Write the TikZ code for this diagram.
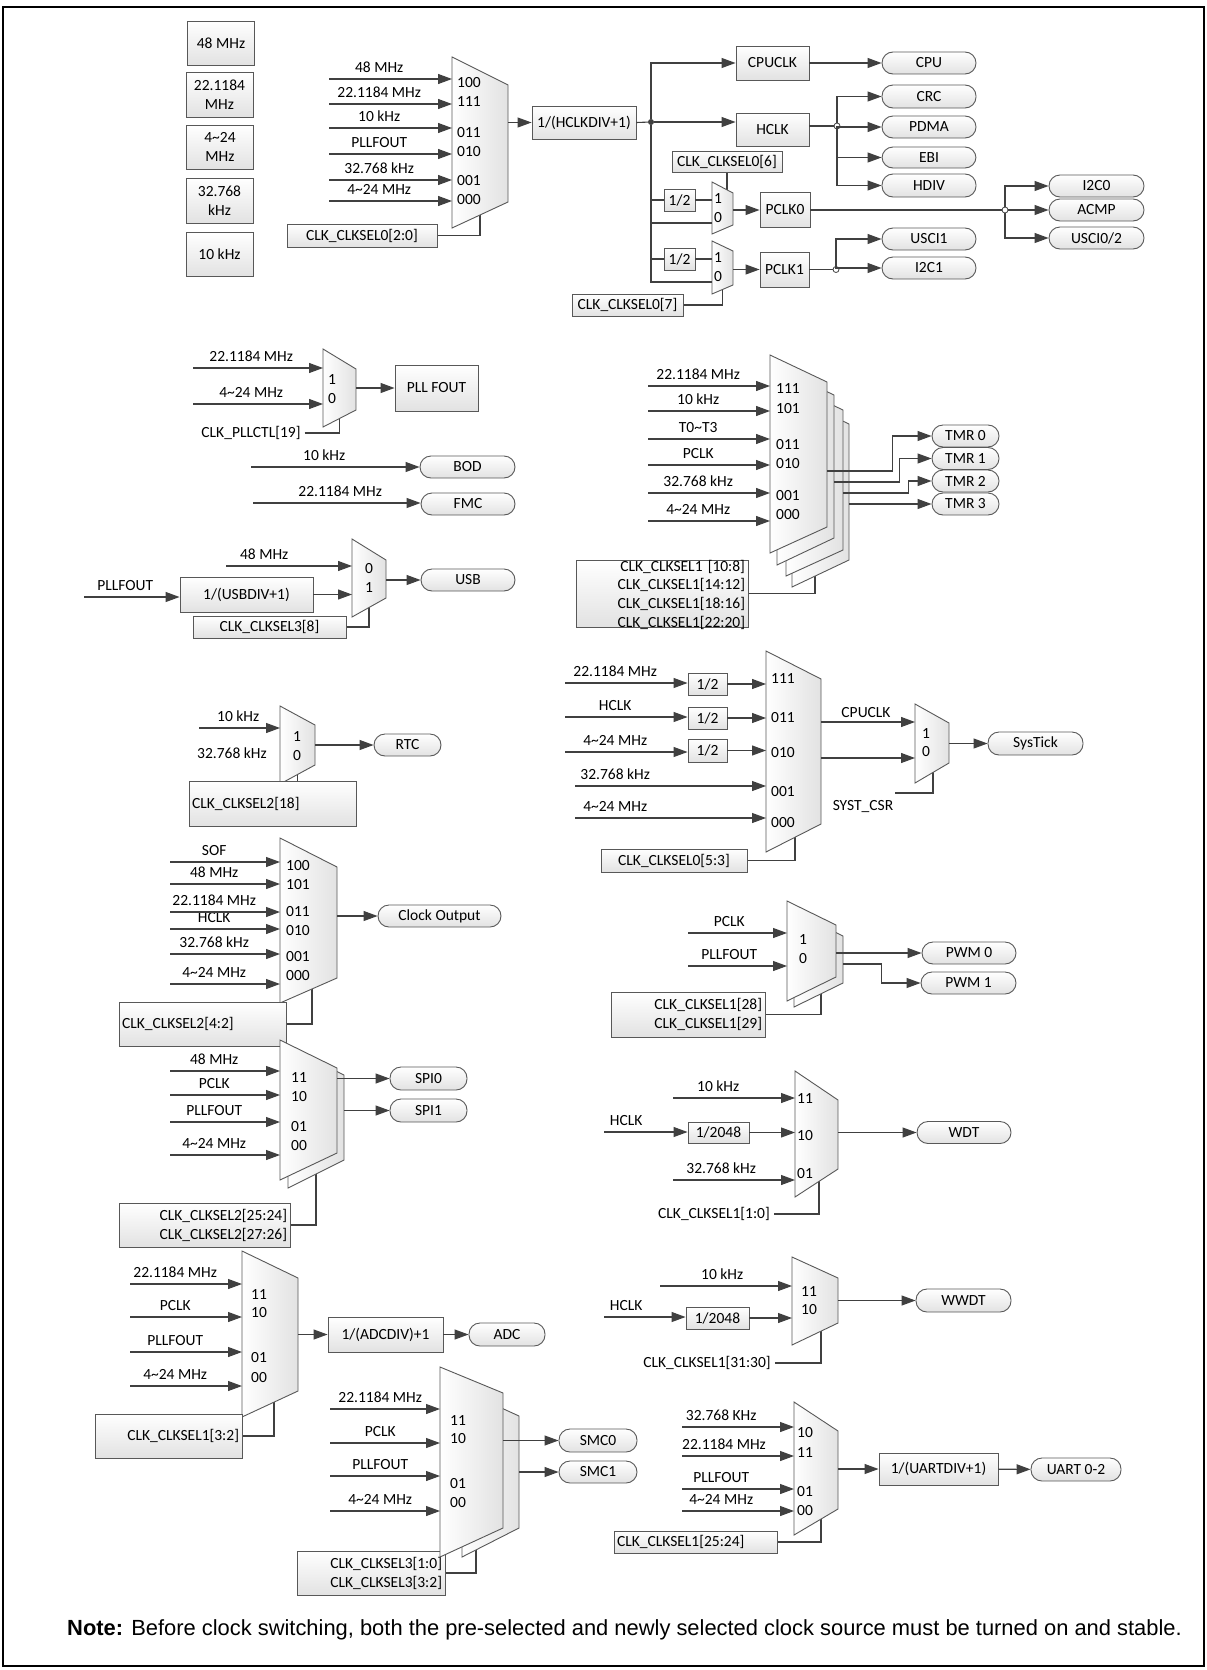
\documentclass[tikz,border=0pt]{standalone}
\usepackage{fontspec}
\setmainfont{Carlito}
\newfontfamily\notefont{Liberation Sans}
\usetikzlibrary{arrows.meta, backgrounds, calc}
\definecolor{wirec}{RGB}{64,64,64}
\definecolor{edgec}{RGB}{88,88,88}
\definecolor{shadec}{RGB}{226,226,226}

\begin{document}
\begin{tikzpicture}[
    x=1pt, y=-1pt,
    font=\fontsize{15.5}{19}\selectfont,
    wire/.style={draw=wirec, line width=1.1pt},
    arr/.style={wire, -{Triangle[length=14pt, width=10pt]}},
    blk/.style={draw=edgec, line width=0.9pt, top color=white, bottom color=shadec,
                inner sep=2pt, align=center},
    term/.style={blk, rounded corners=11pt, minimum height=22pt},
    selbox/.style={blk, inner xsep=3pt},
    muxnode/.style={inner sep=0pt, outer sep=0pt},
    muxbody/.style={draw=edgec, line width=0.9pt, left color=white, right color=shadec},
    src/.style={anchor=south west, inner xsep=0pt, inner ysep=3pt,
                text height=10pt, text depth=3pt},
    bit/.style={anchor=west, inner sep=0pt},
    txt/.style={inner xsep=4pt, inner ysep=0pt},
    jdot/.style={circle, fill=wirec, inner sep=0pt, minimum size=6pt},
    jring/.style={circle, draw=wirec, fill=white, line width=0.8pt, inner sep=0pt,
                  minimum size=6pt},
]
    \begin{scope}[on background layer]
        \fill[white] (0,0) rectangle (1207,1670);
    \end{scope}
    \path[use as bounding box] (0,0) rectangle (1207,1670);
    \draw[line width=1.6pt] (3,7) rectangle (1204,1666);

    % clock sources
    \node[blk, minimum width=67pt, minimum height=44pt] (s48) at (221,43) {48 MHz};
    \node[blk, minimum width=67pt, minimum height=45pt] (s22) at (219.5,94.5) {22.1184\\MHz};
    \node[blk, minimum width=67pt, minimum height=44pt] (s424) at (220,147) {4\textasciitilde24\\MHz};
    \node[blk, minimum width=67pt, minimum height=45pt] (s32) at (219.5,200.5) {32.768\\kHz};
    \node[blk, minimum width=67pt, minimum height=44pt] (s10) at (219.5,254) {10 kHz};

    % HCLK selection
    \node[muxnode, minimum width=56pt, minimum height=171pt] (hmux) at (480,142.5) {};
    \draw[muxbody] (hmux.north west) -- ([yshift=-28pt]hmux.north east)
        -- ([yshift=26pt]hmux.south east) -- (hmux.south west) -- cycle;
    \node[bit] (hb1) at (457,83) {100};
    \node[bit] (hb2) at (457,102) {111};
    \node[bit] (hb3) at (457,133) {011};
    \node[bit] (hb4) at (457,152) {010};
    \node[bit] (hb5) at (457,181) {001};
    \node[bit] (hb6) at (457,200) {000};
    \node[src, minimum width=100pt] (hi1) at (329,79) {48 MHz};
    \node[src, minimum width=100pt] (hi2) at (329,104) {22.1184 MHz};
    \node[src, minimum width=100pt] (hi3) at (329,128) {10 kHz};
    \node[src, minimum width=100pt] (hi4) at (329,154) {PLLFOUT};
    \node[src, minimum width=100pt] (hi5) at (329,180) {32.768 kHz};
    \node[src, minimum width=100pt] (hi6) at (329,201) {4\textasciitilde24 MHz};
    \draw[arr] (hi1.south west) -- (hi1.south west -| hmux.west);
    \draw[arr] (hi2.south west) -- (hi2.south west -| hmux.west);
    \draw[arr] (hi3.south west) -- (hi3.south west -| hmux.west);
    \draw[arr] (hi4.south west) -- (hi4.south west -| hmux.west);
    \draw[arr] (hi5.south west) -- (hi5.south west -| hmux.west);
    \draw[arr] (hi6.south west) -- (hi6.south west -| hmux.west);
    \node[selbox, minimum width=150pt, minimum height=23pt] (hsel) at (362,235.5) {CLK\_CLKSEL0[2:0]};

    \node[blk, minimum width=104pt, minimum height=33pt] (hdiv) at (584,122.5) {1/(HCLKDIV+1)};
    \draw[arr] (hdiv.west -| hmux.east) -- (hdiv.west);
    \node[jdot] (hdot) at (651,122) {};
    \draw[wire] (hdiv.east) -- (hdot);
    \node[blk, minimum width=73pt, minimum height=34pt] (cpuclk) at (772.5,63) {CPUCLK};
    \node[blk, minimum width=73pt, minimum height=33pt] (hclk) at (772.5,129.5) {HCLK};
    \draw[arr] (hdot) |- (cpuclk.west);
    \draw[arr] (hdot) -- (hdot -| hclk.west);

    % PCLK0 / PCLK1
    \node[blk, minimum width=31pt, minimum height=22pt, inner sep=0pt] (half0) at (679.5,200) {1/2};
    \node[muxnode, minimum width=21pt, minimum height=52pt] (pm0) at (722.5,208) {};
    \draw[muxbody] (pm0.north west) -- ([yshift=-11pt]pm0.north east)
        -- ([yshift=9pt]pm0.south east) -- (pm0.south west) -- cycle;
    \node[bit] (pm0b1) at (714,199) {1};
    \node[bit] (pm0b0) at (714,218) {0};
    \draw[wire] (hdot) |- (half0.west);
    \draw[wire] (half0.east) -- (half0.east -| pm0.west);
    \draw[wire] (hdot) |- ([yshift=-15pt]pm0.west);
    \node[selbox, minimum width=110pt, minimum height=21pt, inner ysep=1pt] (sel6) at (727,161.5) {CLK\_CLKSEL0[6]};
    \node[blk, minimum width=50pt, minimum height=35pt] (pclk0) at (785,210) {PCLK0};
    \draw[arr] (pclk0.west -| pm0.east) -- (pclk0.west);

    \node[blk, minimum width=31pt, minimum height=22pt, inner sep=0pt] (half1) at (679.5,259) {1/2};
    \node[muxnode, minimum width=21pt, minimum height=53pt] (pm1) at (722.5,267.5) {};
    \draw[muxbody] (pm1.north west) -- ([yshift=-10pt]pm1.north east)
        -- ([yshift=9pt]pm1.south east) -- (pm1.south west) -- cycle;
    \node[bit] (pm1b1) at (714,258) {1};
    \node[bit] (pm1b0) at (714,277) {0};
    \draw[wire] (hdot) |- (half1.west);
    \draw[wire] (half1.east) -- (half1.east -| pm1.west);
    \draw[wire] (hdot) |- ([yshift=-14.5pt]pm1.west);
    \node[selbox, minimum width=111pt, minimum height=22pt, inner ysep=1pt] (sel7) at (627.5,305) {CLK\_CLKSEL0[7]};
    \node[blk, minimum width=49pt, minimum height=35pt] (pclk1) at (784.5,269.5) {PCLK1};
    \draw[arr] (pclk1.west -| pm1.east) -- (pclk1.west);

    % AHB / APB peripherals
    \node[term, minimum width=94pt] (cpu) at (929,63) {CPU};
    \draw[arr] (cpuclk) -- (cpu);
    \node[term, minimum width=94pt, minimum height=23pt] (crc) at (929,96.5) {CRC};
    \node[term, minimum width=94pt] (pdma) at (929,127) {PDMA};
    \node[term, minimum width=94pt, minimum height=21pt] (ebi) at (929,157.5) {EBI};
    \node[term, minimum width=94pt, minimum height=23pt] (hdv) at (929,185.5) {HDIV};
    \node[jring] (hjn) at (837,126) {};
    \draw[wire] (hjn -| hclk.east) -- (hjn);
    \draw[arr] (hjn) |- (crc.west);
    \draw[arr] (hjn) |- (pdma.west);
    \draw[arr] (hjn) |- (ebi.west);
    \draw[arr] (hjn) |- (hdv.west);

    \node[term, minimum width=95pt] (i2c0) at (1096.5,186) {I2C0};
    \node[term, minimum width=95pt] (acmp) at (1096.5,210) {ACMP};
    \node[term, minimum width=95pt] (usci02) at (1096.5,238) {USCI0/2};
    \node[jring] (pjn) at (1005,210) {};
    \draw[wire] (pclk0) -- (pjn);
    \draw[arr] (pjn) |- (i2c0.west);
    \draw[arr] (pjn) -- (acmp.west);
    \draw[arr] (pjn) |- (usci02.west);

    \node[term, minimum width=94pt] (usci1) at (929,239) {USCI1};
    \node[term, minimum width=94pt] (i2c1) at (929,268) {I2C1};
    \node[jring] (qjn) at (836,269.5) {};
    \draw[wire] (pclk1) -- (qjn);
    \draw[arr] (qjn) |- (usci1.west);
    \draw[arr] (qjn) |- (i2c1.west);

    % PLL
    \node[muxnode, minimum width=33pt, minimum height=78pt] (pmux) at (339.5,388) {};
    \draw[muxbody] (pmux.north west) -- ([yshift=-20pt]pmux.north east)
        -- ([yshift=17pt]pmux.south east) -- (pmux.south west) -- cycle;
    \node[bit] (pb1) at (328,380) {1};
    \node[bit] (pb0) at (328,399) {0};
    \node[src, minimum width=116pt] (pi1) at (193,368) {22.1184 MHz};
    \node[src, minimum width=116pt] (pi0) at (193,404) {4\textasciitilde24 MHz};
    \draw[arr] (pi1.south west) -- (pi1.south west -| pmux.west);
    \draw[arr] (pi0.south west) -- (pi0.south west -| pmux.west);
    \node[txt] (pllsel) at (251,433) {CLK\_PLLCTL[19]};
    \node[blk, minimum width=83pt, minimum height=46pt] (pllfout) at (436.5,388) {PLL FOUT};
    \draw[arr] (pllfout.west -| pmux.east) -- (pllfout.west);

    % BOD, FMC
    \node[src, minimum width=146pt] (bodi) at (251,467) {10 kHz};
    \node[term, minimum width=95pt] (bod) at (467.5,467) {BOD};
    \draw[arr] (bodi.south west) -- (bodi.south west -| bod.west);
    \node[src, minimum width=174pt] (fmci) at (253,503) {22.1184 MHz};
    \node[term, minimum width=94pt] (fmc) at (468,504) {FMC};
    \draw[arr] (fmci.south west) -- (fmci.south west -| fmc.west);

    % USB
    \node[muxnode, minimum width=34pt, minimum height=78pt] (umux) at (369,578) {};
    \draw[muxbody] (umux.north west) -- ([yshift=-21pt]umux.north east)
        -- ([yshift=19pt]umux.south east) -- (umux.south west) -- cycle;
    \node[bit] (ub0) at (365,569) {0};
    \node[bit] (ub1) at (365,588) {1};
    \node[src, minimum width=76pt] (ui0) at (226,566) {48 MHz};
    \draw[arr] (ui0.south west) -- (ui0.south west -| umux.west);
    \node[src, minimum width=82pt] (upll) at (84,597) {PLLFOUT};
    \node[blk, minimum width=133pt, minimum height=35pt] (usbdiv) at (246.5,594.5) {1/(USBDIV+1)};
    \draw[arr] (upll.south west) -- (upll.south west -| usbdiv.west);
    \draw[arr] (usbdiv.east) -- (usbdiv.east -| umux.west);
    \node[term, minimum width=94pt] (usb) at (468,580) {USB};
    \draw[arr] (usb.west -| umux.east) -- (usb.west);
    \node[selbox, minimum width=153pt, minimum height=22pt] (usel) at (269.5,627) {CLK\_CLKSEL3[8]};

    % TMR
    \node[muxnode, minimum width=57pt, minimum height=190pt] (tm3) at (820.5,492) {};
    \draw[muxbody] (tm3.north west) -- ([yshift=-27pt]tm3.north east)
        -- ([yshift=27pt]tm3.south east) -- (tm3.south west) -- cycle;
    \node[muxnode, minimum width=57pt, minimum height=193pt] (tm2) at (814.5,479.5) {};
    \draw[muxbody] (tm2.north west) -- ([yshift=-27pt]tm2.north east)
        -- ([yshift=26pt]tm2.south east) -- (tm2.south west) -- cycle;
    \node[muxnode, minimum width=57pt, minimum height=197pt] (tm1) at (805.5,466.5) {};
    \draw[muxbody] (tm1.north west) -- ([yshift=-27pt]tm1.north east)
        -- ([yshift=27pt]tm1.south east) -- (tm1.south west) -- cycle;
    \node[muxnode, minimum width=57pt, minimum height=198pt] (tm0) at (798.5,454) {};
    \draw[muxbody] (tm0.north west) -- ([yshift=-27pt]tm0.north east)
        -- ([yshift=26pt]tm0.south east) -- (tm0.south west) -- cycle;
    \node[bit] (tb1) at (776,389) {111};
    \node[bit] (tb2) at (776,409) {101};
    \node[bit] (tb3) at (776,445) {011};
    \node[bit] (tb4) at (776,464) {010};
    \node[bit] (tb5) at (776,496) {001};
    \node[bit] (tb6) at (776,515) {000};
    \node[src, minimum width=100pt] (ti1) at (648,386) {22.1184 MHz};
    \node[src, minimum width=100pt] (ti2) at (648,411) {10 kHz};
    \node[src, minimum width=100pt] (ti3) at (648,439) {T0\textasciitilde{}T3};
    \node[src, minimum width=100pt] (ti4) at (648,465) {PCLK};
    \node[src, minimum width=100pt] (ti5) at (648,493) {32.768 kHz};
    \node[src, minimum width=100pt] (ti6) at (648,521) {4\textasciitilde24 MHz};
    \draw[arr] (ti1.south west) -- (ti1.south west -| tm0.west);
    \draw[arr] (ti2.south west) -- (ti2.south west -| tm0.west);
    \draw[arr] (ti3.south west) -- (ti3.south west -| tm0.west);
    \draw[arr] (ti4.south west) -- (ti4.south west -| tm0.west);
    \draw[arr] (ti5.south west) -- (ti5.south west -| tm0.west);
    \draw[arr] (ti6.south west) -- (ti6.south west -| tm0.west);
    \node[term, minimum width=67pt] (tmr0) at (965.5,436) {TMR 0};
    \node[term, minimum width=67pt] (tmr1) at (965.5,458.5) {TMR 1};
    \node[term, minimum width=67pt] (tmr2) at (965.5,481) {TMR 2};
    \node[term, minimum width=67pt] (tmr3) at (965.5,504) {TMR 3};
    \coordinate (to0) at (827,471);
    \coordinate (to1) at (834,482);
    \coordinate (to2) at (843,493);
    \coordinate (to3) at (849,504);
    \draw[arr] (to0) -| ([xshift=-39pt]tmr0.west) -- (tmr0.west);
    \draw[arr] (to1) -| ([xshift=-32pt]tmr1.west) -- (tmr1.west);
    \draw[arr] (to2) -| ([xshift=-23pt]tmr2.west) -- (tmr2.west);
    \draw[arr] (to3) -- (tmr3.west);
    \node[selbox, minimum width=172pt, minimum height=67pt, text width=166pt, align=right,
          text height=9pt, text depth=54pt, font=\fontsize{15.5}{18.7}\selectfont] (tsel)
        at (662,593.5) {CLK\_CLKSEL1 [10:8]\\CLK\_CLKSEL1[14:12]\\CLK\_CLKSEL1[18:16]\\CLK\_CLKSEL1[22:20]};

    % RTC
    \node[muxnode, minimum width=35pt, minimum height=78pt] (rmux) at (297.5,745) {};
    \draw[muxbody] (rmux.north west) -- ([yshift=-19pt]rmux.north east)
        -- ([yshift=19pt]rmux.south east) -- (rmux.south west) -- cycle;
    \node[bit] (rb1) at (293,737) {1};
    \node[bit] (rb0) at (293,756) {0};
    \node[src, minimum width=78pt] (ri1) at (199,728) {10 kHz};
    \draw[arr] (ri1.south west) -- (ri1.south west -| rmux.west);
    \node[txt] (ri0) at (232,753) {32.768 kHz};
    \node[selbox, minimum width=167pt, minimum height=45pt, text width=161pt, align=left] (rsel)
        at (272.5,803.5) {CLK\_CLKSEL2[18]};
    \node[term, minimum width=67pt] (rtc) at (407.5,745) {RTC};
    \draw[arr] (rtc.west -| rmux.east) -- (rtc.west);

    % clock output
    \node[muxnode, minimum width=57pt, minimum height=165pt] (cmux) at (308.5,920.5) {};
    \draw[muxbody] (cmux.north west) -- ([yshift=-29pt]cmux.north east)
        -- ([yshift=25pt]cmux.south east) -- (cmux.south west) -- cycle;
    \node[bit] (cb1) at (286,866) {100};
    \node[bit] (cb2) at (286,885) {101};
    \node[bit] (cb3) at (286,912) {011};
    \node[bit] (cb4) at (286,931) {010};
    \node[bit] (cb5) at (286,957) {001};
    \node[bit] (cb6) at (286,976) {000};
    \node[src, minimum width=88pt] (ci1) at (170,862) {SOF};
    \node[src, minimum width=88pt] (ci2) at (170,884) {48 MHz};
    \node[src, minimum width=88pt] (ci3) at (170,912) {22.1184 MHz};
    \node[src, minimum width=88pt] (ci4) at (170,929) {HCLK};
    \node[src, minimum width=88pt] (ci5) at (170,954) {32.768 kHz};
    \node[src, minimum width=88pt] (ci6) at (170,984) {4\textasciitilde24 MHz};
    \draw[arr] (ci1.south west) -- (ci1.south west -| cmux.west);
    \draw[arr] (ci2.south west) -- (ci2.south west -| cmux.west);
    \draw[arr] (ci3.south west) -- (ci3.south west -| cmux.west);
    \draw[arr] (ci4.south west) -- (ci4.south west -| cmux.west);
    \draw[arr] (ci5.south west) -- (ci5.south west -| cmux.west);
    \draw[arr] (ci6.south west) -- (ci6.south west -| cmux.west);
    \node[term, minimum width=123pt] (clkout) at (439.5,916) {Clock Output};
    \draw[arr] (clkout.west -| cmux.east) -- (clkout.west);
    \node[selbox, minimum width=167pt, minimum height=44pt, text width=161pt, align=left] (csel)
        at (202.5,1024) {CLK\_CLKSEL2[4:2]};

    % SPI
    \node[selbox, minimum width=171pt, minimum height=44pt, text width=165pt, align=right] (ssel)
        at (204.5,1225) {CLK\_CLKSEL2[25:24]\\CLK\_CLKSEL2[27:26]};
    \node[muxnode, minimum width=56pt, minimum height=141pt] (smuxb) at (316,1117.5) {};
    \draw[muxbody] (smuxb.north west) -- ([yshift=-28pt]smuxb.north east)
        -- ([yshift=28pt]smuxb.south east) -- (smuxb.south west) -- cycle;
    \node[muxnode, minimum width=57pt, minimum height=140pt] (smux) at (308.5,1110) {};
    \draw[muxbody] (smux.north west) -- ([yshift=-28pt]smux.north east)
        -- ([yshift=27pt]smux.south east) -- (smux.south west) -- cycle;
    \node[bit] (sb1) at (291,1077) {11};
    \node[bit] (sb2) at (291,1097) {10};
    \node[bit] (sb3) at (291,1127) {01};
    \node[bit] (sb4) at (291,1146) {00};
    \node[src, minimum width=88pt] (si1) at (170,1071) {48 MHz};
    \node[src, minimum width=88pt] (si2) at (170,1095) {PCLK};
    \node[src, minimum width=88pt] (si3) at (170,1122) {PLLFOUT};
    \node[src, minimum width=88pt] (si4) at (170,1155) {4\textasciitilde24 MHz};
    \draw[arr] (si1.south west) -- (si1.south west -| smux.west);
    \draw[arr] (si2.south west) -- (si2.south west -| smux.west);
    \draw[arr] (si3.south west) -- (si3.south west -| smux.west);
    \draw[arr] (si4.south west) -- (si4.south west -| smux.west);
    \node[term, minimum width=77pt, minimum height=23pt] (spi0) at (428.5,1078.5) {SPI0};
    \node[term, minimum width=77pt, minimum height=23pt] (spi1) at (428.5,1110.5) {SPI1};
    \draw[arr] (spi0.west -| smux.east) -- (spi0.west);
    \draw[arr] (spi1.west -| smuxb.east) -- (spi1.west);

    % ADC
    \node[muxnode, minimum width=56pt, minimum height=166pt] (amux) at (270,1334) {};
    \draw[muxbody] (amux.north west) -- ([yshift=-27pt]amux.north east)
        -- ([yshift=26pt]amux.south east) -- (amux.south west) -- cycle;
    \node[bit] (ab1) at (251,1294) {11};
    \node[bit] (ab2) at (251,1313) {10};
    \node[bit] (ab3) at (251,1358) {01};
    \node[bit] (ab4) at (251,1378) {00};
    \node[src, minimum width=90pt] (ai1) at (130,1284) {22.1184 MHz};
    \node[src, minimum width=90pt] (ai2) at (130,1317) {PCLK};
    \node[src, minimum width=90pt] (ai3) at (130,1352) {PLLFOUT};
    \node[src, minimum width=90pt] (ai4) at (130,1386) {4\textasciitilde24 MHz};
    \draw[arr] (ai1.south west) -- (ai1.south west -| amux.west);
    \draw[arr] (ai2.south west) -- (ai2.south west -| amux.west);
    \draw[arr] (ai3.south west) -- (ai3.south west -| amux.west);
    \draw[arr] (ai4.south west) -- (ai4.south west -| amux.west);
    \node[blk, minimum width=115pt, minimum height=35pt] (adcdiv) at (385.5,1334.5) {1/(ADCDIV)+1};
    \node[term, minimum width=76pt, minimum height=23pt] (adc) at (507,1334.5) {ADC};
    \draw[arr] (adcdiv.west -| amux.east) -- (adcdiv.west);
    \draw[arr] (adcdiv) -- (adc);
    \node[selbox, minimum width=147pt, minimum height=44pt, text width=141pt, align=right] (asel)
        at (168.5,1436) {CLK\_CLKSEL1[3:2]};

    % SMC
    \node[selbox, minimum width=148pt, minimum height=44pt, text width=142pt, align=right] (msel)
        at (371,1573) {CLK\_CLKSEL3[1:0]\\CLK\_CLKSEL3[3:2]};
    \node[muxnode, minimum width=57pt, minimum height=167pt] (mmuxb) at (490.5,1473.5) {};
    \draw[muxbody] (mmuxb.north west) -- ([yshift=-26pt]mmuxb.north east)
        -- ([yshift=29pt]mmuxb.south east) -- (mmuxb.south west) -- cycle;
    \node[muxnode, minimum width=63pt, minimum height=190pt] (mmux) at (471.5,1462) {};
    \draw[muxbody] (mmux.north west) -- ([yshift=-26pt]mmux.north east)
        -- ([yshift=29pt]mmux.south east) -- (mmux.south west) -- cycle;
    \node[bit] (mb1) at (450,1420) {11};
    \node[bit] (mb2) at (450,1439) {10};
    \node[bit] (mb3) at (450,1484) {01};
    \node[bit] (mb4) at (450,1503) {00};
    \node[src, minimum width=100pt] (mi1) at (330,1409) {22.1184 MHz};
    \node[src, minimum width=100pt] (mi2) at (330,1443) {PCLK};
    \node[src, minimum width=100pt] (mi3) at (330,1476) {PLLFOUT};
    \node[src, minimum width=100pt] (mi4) at (330,1511) {4\textasciitilde24 MHz};
    \draw[arr] (mi1.south west) -- (mi1.south west -| mmux.west);
    \draw[arr] (mi2.south west) -- (mi2.south west -| mmux.west);
    \draw[arr] (mi3.south west) -- (mi3.south west -| mmux.west);
    \draw[arr] (mi4.south west) -- (mi4.south west -| mmux.west);
    \node[term, minimum width=78pt, minimum height=23pt] (smc0) at (598,1440.5) {SMC0};
    \node[term, minimum width=78pt] (smc1) at (598,1472) {SMC1};
    \draw[arr] (smc0.west -| mmux.east) -- (smc0.west);
    \draw[arr] (smc1.west -| mmuxb.east) -- (smc1.west);

    % SysTick
    \node[muxnode, minimum width=55pt, minimum height=201pt] (ymux) at (793.5,751.5) {};
    \draw[muxbody] (ymux.north west) -- ([yshift=-28pt]ymux.north east)
        -- ([yshift=28pt]ymux.south east) -- (ymux.south west) -- cycle;
    \node[bit] (yb1) at (771,679) {111};
    \node[bit] (yb2) at (771,718) {011};
    \node[bit] (yb3) at (771,753) {010};
    \node[bit] (yb4) at (771,792) {001};
    \node[bit] (yb5) at (771,823) {000};
    \node[src, minimum width=100pt] (yi1) at (565,683) {22.1184 MHz};
    \node[src, minimum width=100pt] (yi2) at (565,717) {HCLK};
    \node[src, minimum width=100pt] (yi3) at (565,752) {4\textasciitilde24 MHz};
    \node[src, minimum width=80pt] (yi4) at (575,786) {32.768 kHz};
    \node[src, minimum width=80pt] (yi5) at (575,818) {4\textasciitilde24 MHz};
    \node[blk, minimum width=39pt, minimum height=22pt, inner sep=0pt] (yh1) at (707.5,684) {1/2};
    \node[blk, minimum width=39pt, minimum height=22pt, inner sep=0pt] (yh2) at (707.5,718) {1/2};
    \node[blk, minimum width=39pt, minimum height=23pt, inner sep=0pt] (yh3) at (707.5,750.5) {1/2};
    \draw[arr] (yi1.south west) -- (yi1.south west -| yh1.west);
    \draw[arr] (yi2.south west) -- (yi2.south west -| yh2.west);
    \draw[arr] (yi3.south west) -- (yi3.south west -| yh3.west);
    \draw[arr] (yh1.east) -- (yh1.east -| ymux.west);
    \draw[arr] (yh2.east) -- (yh2.east -| ymux.west);
    \draw[arr] (yh3.east) -- (yh3.east -| ymux.west);
    \draw[arr] (yi4.south west) -- (yi4.south west -| ymux.west);
    \draw[arr] (yi5.south west) -- (yi5.south west -| ymux.west);
    \node[selbox, minimum width=146pt, minimum height=23pt] (ysel) at (674,860.5) {CLK\_CLKSEL0[5:3]};

    \node[muxnode, minimum width=34pt, minimum height=79pt] (stmux) at (932,743.5) {};
    \draw[muxbody] (stmux.north west) -- ([yshift=-19pt]stmux.north east)
        -- ([yshift=20pt]stmux.south east) -- (stmux.south west) -- cycle;
    \node[bit] (stb1) at (922,734) {1};
    \node[bit] (stb0) at (922,752) {0};
    \coordinate (sti1) at (915,722);
    \coordinate (sti0) at (915,758);
    \draw[arr] (sti1 -| ymux.east) -- (sti1);
    \draw[arr] (sti0 -| ymux.east) -- (sti0);
    \node[txt] (cpuclkl) at (866,713) {CPUCLK};
    \node[txt] (systcsr) at (863,807) {SYST\_CSR};
    \coordinate (stsel) at (895,793);
    \node[term, minimum width=95pt, minimum height=23pt] (systick) at (1035.5,743.5) {SysTick};
    \draw[arr] (systick.west -| stmux.east) -- (systick.west);

    % PWM
    \node[muxnode, minimum width=49pt, minimum height=95pt] (wmuxb) at (818.5,959.5) {};
    \draw[muxbody] (wmuxb.north west) -- ([yshift=-24pt]wmuxb.north east)
        -- ([yshift=24pt]wmuxb.south east) -- (wmuxb.south west) -- cycle;
    \node[muxnode, minimum width=49pt, minimum height=100pt] (wmux) at (811.5,951) {};
    \draw[muxbody] (wmux.north west) -- ([yshift=-24pt]wmux.north east)
        -- ([yshift=24pt]wmux.south east) -- (wmux.south west) -- cycle;
    \node[bit] (wb1) at (799,940) {1};
    \node[bit] (wb0) at (799,959) {0};
    \node[src, minimum width=82pt] (wi1) at (688,933) {PCLK};
    \node[src, minimum width=82pt] (wi0) at (688,966) {PLLFOUT};
    \draw[arr] (wi1.south west) -- (wi1.south west -| wmux.west);
    \draw[arr] (wi0.south west) -- (wi0.south west -| wmux.west);
    \node[term, minimum width=94pt] (pwm0) at (969,953) {PWM 0};
    \node[term, minimum width=95pt] (pwm1) at (968.5,983) {PWM 1};
    \draw[arr] (pwm0.west -| wmux.east) -- (pwm0.west);
    \coordinate (pwo1) at (843,964);
    \draw[arr] (pwo1) -| ([xshift=-39pt]pwm1.west) -- (pwm1.west);
    \node[selbox, minimum width=154pt, minimum height=45pt, text width=148pt, align=right] (psel)
        at (688,1014.5) {CLK\_CLKSEL1[28]\\CLK\_CLKSEL1[29]};

    % WDT
    \node[muxnode, minimum width=43pt, minimum height=126pt] (dmux) at (816.5,1134) {};
    \draw[muxbody] (dmux.north west) -- ([yshift=-29pt]dmux.north east)
        -- ([yshift=28pt]dmux.south east) -- (dmux.south west) -- cycle;
    \node[bit] (db1) at (797,1098) {11};
    \node[bit] (db2) at (797,1136) {10};
    \node[bit] (db3) at (797,1174) {01};
    \node[src, minimum width=90pt] (di1) at (673,1098) {10 kHz};
    \node[src, minimum width=44pt] (dhclk) at (604,1132) {HCLK};
    \node[blk, minimum width=61pt, minimum height=21pt, inner sep=0pt] (dbox) at (718.5,1132.5) {1/2048};
    \node[src, minimum width=96pt] (di0) at (673,1180) {32.768 kHz};
    \draw[arr] (di1.south west) -- (di1.south west -| dmux.west);
    \draw[arr] (dhclk.south west) -- (dhclk.south west -| dbox.west);
    \draw[arr] (dbox.east) -- (dbox.east -| dmux.west);
    \draw[arr] (di0.south west) -- (di0.south west -| dmux.west);
    \node[term, minimum width=94pt] (wdt) at (964,1132.5) {WDT};
    \draw[arr] (wdt.west -| dmux.east) -- (wdt.west);
    \node[txt] (dsel) at (714,1214) {CLK\_CLKSEL1[1:0]};

    % WWDT
    \node[muxnode, minimum width=46pt, minimum height=88pt] (wwmux) at (815,1301) {};
    \draw[muxbody] (wwmux.north west) -- ([yshift=-21pt]wwmux.north east)
        -- ([yshift=22pt]wwmux.south east) -- (wwmux.south west) -- cycle;
    \node[bit] (wwb1) at (801,1291) {11};
    \node[bit] (wwb0) at (801,1310) {10};
    \node[src, minimum width=124pt] (wwi1) at (660,1286) {10 kHz};
    \node[src, minimum width=44pt] (wwhclk) at (604,1317) {HCLK};
    \node[blk, minimum width=63pt, minimum height=22pt, inner sep=0pt] (wbox) at (717.5,1318) {1/2048};
    \draw[arr] (wwi1.south west) -- (wwi1.south west -| wwmux.west);
    \draw[arr] (wwhclk.south west) -- (wwhclk.south west -| wbox.west);
    \draw[arr] (wbox.east) -- (wbox.east -| wwmux.west);
    \node[term, minimum width=95pt, minimum height=23pt] (wwdt) at (963.5,1300.5) {WWDT};
    \draw[arr] (wwdt.west -| wwmux.east) -- (wwdt.west);
    \node[txt] (wsel) at (707,1363) {CLK\_CLKSEL1[31:30]};

    % UART
    \node[muxnode, minimum width=44pt, minimum height=133pt] (uamux) at (816,1468.5) {};
    \draw[muxbody] (uamux.north west) -- ([yshift=-29pt]uamux.north east)
        -- ([yshift=26pt]uamux.south east) -- (uamux.south west) -- cycle;
    \node[bit] (uab1) at (797,1433) {10};
    \node[bit] (uab2) at (797,1452) {11};
    \node[bit] (uab3) at (797,1492) {01};
    \node[bit] (uab4) at (797,1511) {00};
    \node[src, minimum width=78pt] (uai1) at (682,1427) {32.768 KHz};
    \node[src, minimum width=78pt] (uai2) at (682,1456) {22.1184 MHz};
    \node[src, minimum width=78pt] (uai3) at (682,1489) {PLLFOUT};
    \node[src, minimum width=78pt] (uai4) at (682,1511) {4\textasciitilde24 MHz};
    \draw[arr] (uai1.south west) -- (uai1.south west -| uamux.west);
    \draw[arr] (uai2.south west) -- (uai2.south west -| uamux.west);
    \draw[arr] (uai3.south west) -- (uai3.south west -| uamux.west);
    \draw[arr] (uai4.south west) -- (uai4.south west -| uamux.west);
    \node[blk, minimum width=119pt, minimum height=32pt] (uartdiv) at (938.5,1469) {1/(UARTDIV+1)};
    \node[term, minimum width=90pt, minimum height=23pt] (uart) at (1076,1469.5) {UART 0-2};
    \draw[arr] (uartdiv.west -| uamux.east) -- (uartdiv.west);
    \draw[arr] (uartdiv) -- (uart);
    \node[selbox, minimum width=163pt, minimum height=22pt, text width=157pt, align=left] (uasel)
        at (695.5,1542) {CLK\_CLKSEL1[25:24]};

    % select lines, behind the muxes
    \begin{scope}[on background layer]
        \draw[wire] (hsel.east) -| (hmux.center);
        \draw[wire] (sel6.south) -- (sel6.south |- pm0.center);
        \draw[wire] (sel7.east) -| (pm1.center);
        \draw[wire] (pllsel.east) -| (pmux.center);
        \draw[wire] (usel.east) -| (umux.center);
        \draw[wire] (tsel.east) -| ([xshift=-5.5pt]tm3.center);
        \draw[wire] (rmux.center |- rsel.north) -- (rmux.center);
        \draw[wire] (csel.east) -| ([xshift=3.5pt]cmux.center);
        \draw[wire] (ssel.east) -| (smuxb.center);
        \draw[wire] (asel.east) -| ([xshift=4pt]amux.center);
        \draw[wire] (msel.east) -| ([xshift=-14.5pt]mmuxb.center);
        \draw[wire] (ysel.east) -| ([xshift=1.5pt]ymux.center);
        \draw[wire] (stsel) -| ([xshift=1pt]stmux.center);
        \draw[wire] (psel.east) -| ([xshift=2.5pt]wmuxb.center);
        \draw[wire] (dsel.east) -| ([xshift=2.5pt]dmux.center);
        \draw[wire] (wsel.east) -| ([xshift=6pt]wwmux.center);
        \draw[wire] (uasel.east) -| ([xshift=5pt]uamux.center);
    \end{scope}

    \node[anchor=west, inner sep=0pt, font=\notefont\fontsize{21.9}{26}\selectfont] (note)
        at (67,1630) {\textbf{Note:} Before clock switching, both the pre-selected and newly selected clock source must be turned on and stable.};
\end{tikzpicture}
\end{document}
